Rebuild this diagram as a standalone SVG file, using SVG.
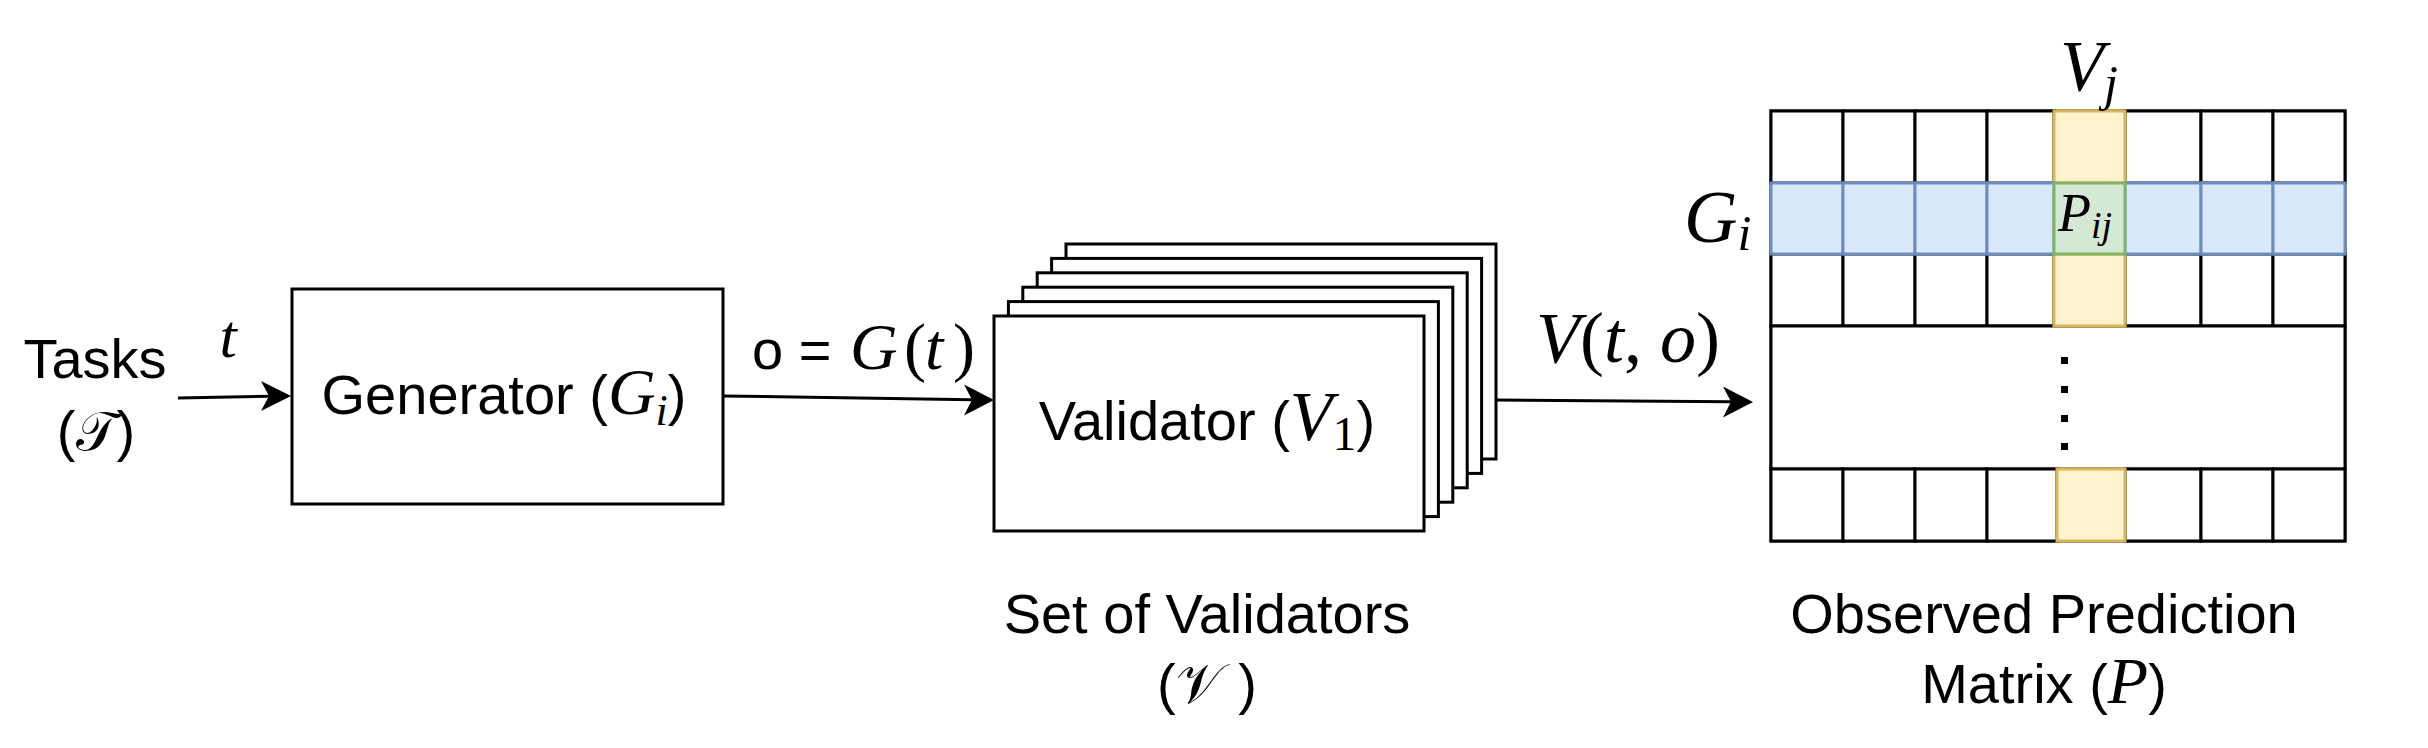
<svg xmlns="http://www.w3.org/2000/svg" width="2428" height="748" viewBox="0 0 2428 748">
<style>
.box{fill:#fff;stroke:#000;stroke-width:3}
.cell{fill:#fff;stroke:#000;stroke-width:3}
.ycell{fill:#fff2cc;stroke:#d6b656;stroke-width:3}
.bcell{fill:#dae8fc;stroke:#6c8ebf;stroke-width:3}
.gcell{fill:#d5e8d4;stroke:#82b366;stroke-width:3}
.edge{fill:none;stroke:#000;stroke-width:3}
.sans{font-family:"Liberation Sans",Arial,sans-serif;font-size:56px;fill:#000}
.m{font-family:"Liberation Serif","Times New Roman",serif;font-style:italic}
.mu{font-family:"Liberation Serif","Times New Roman",serif;font-style:normal}
.cal{font-family:"DejaVu Serif","DejaVu Sans","Noto Sans",serif;font-style:normal}
</style>

<g id="tasks">
<text class="sans" x="95" y="378" text-anchor="middle" font-size="54">Tasks</text>
<text class="sans" x="96" y="450" text-anchor="middle" font-size="54">(<tspan class="cal" font-size="54">𝒯</tspan>)</text>
</g>

<g id="generator">
<rect class="box" x="292" y="289" width="431" height="215"/>
<text class="sans" x="504" y="414" text-anchor="middle">Generator (<tspan class="m" font-size="66">G</tspan><tspan class="m" font-size="44" dy="11">i</tspan><tspan dy="-11">)</tspan></text>
</g>

<g id="validators">
<rect class="box" x="1066" y="244" width="430" height="215"/>
<rect class="box" x="1051.6" y="258.4" width="430" height="215"/>
<rect class="box" x="1037.2" y="272.8" width="430" height="215"/>
<rect class="box" x="1022.8" y="287.2" width="430" height="215"/>
<rect class="box" x="1008.4" y="301.6" width="430" height="215"/>
<rect class="box" x="994" y="316" width="430" height="215"/>
<text class="sans" x="1207" y="440" text-anchor="middle">Validator (<tspan class="m" font-size="70">V</tspan><tspan class="mu" font-size="48" dy="10">1</tspan><tspan dy="-10">)</tspan></text>
</g>

<g id="set-label">
<text class="sans" x="1207" y="633" text-anchor="middle">Set of Validators</text>
<text class="sans" x="1207" y="703" text-anchor="middle">(<tspan class="cal">𝒱</tspan> )</text>
</g>

<g id="matrix">
<rect class="cell" x="1771" y="111" width="574" height="430"/>
<g id="row0">
<rect class="cell" x="1771" y="111" width="72" height="72"/>
<rect class="cell" x="1843" y="111" width="72" height="72"/>
<rect class="cell" x="1915" y="111" width="72" height="72"/>
<rect class="cell" x="1987" y="111" width="67" height="72"/>
<rect class="cell" x="2125" y="111" width="76" height="72"/>
<rect class="cell" x="2201" y="111" width="72" height="72"/>
<rect class="cell" x="2273" y="111" width="72" height="72"/>
</g>
<g id="row2">
<rect class="cell" x="1771" y="254" width="72" height="72"/>
<rect class="cell" x="1843" y="254" width="72" height="72"/>
<rect class="cell" x="1915" y="254" width="72" height="72"/>
<rect class="cell" x="1987" y="254" width="67" height="72"/>
<rect class="cell" x="2125" y="254" width="76" height="72"/>
<rect class="cell" x="2201" y="254" width="72" height="72"/>
<rect class="cell" x="2273" y="254" width="72" height="72"/>
</g>
<rect class="cell" x="1771" y="326" width="574" height="143"/>
<g id="row4">
<rect class="cell" x="1771" y="469" width="72" height="72"/>
<rect class="cell" x="1843" y="469" width="72" height="72"/>
<rect class="cell" x="1915" y="469" width="72" height="72"/>
<rect class="cell" x="1987" y="469" width="70" height="72"/>
<rect class="cell" x="2125" y="469" width="76" height="72"/>
<rect class="cell" x="2201" y="469" width="72" height="72"/>
<rect class="cell" x="2273" y="469" width="72" height="72"/>
</g>
<g id="column-j">
<rect class="ycell" x="2054" y="111" width="71" height="72"/>
<rect class="ycell" x="2054" y="254" width="71" height="72"/>
<rect class="ycell" x="2057" y="469" width="68" height="72"/>
</g>
<g id="row-i">
<rect class="bcell" x="1771" y="183" width="72" height="71"/>
<rect class="bcell" x="1843" y="183" width="72" height="71"/>
<rect class="bcell" x="1915" y="183" width="72" height="71"/>
<rect class="bcell" x="1987" y="183" width="67" height="71"/>
<rect class="bcell" x="2125" y="183" width="76" height="71"/>
<rect class="bcell" x="2201" y="183" width="72" height="71"/>
<rect class="bcell" x="2273" y="183" width="72" height="71"/>
</g>
<g id="cell-ij">
<rect class="gcell" x="2054" y="183" width="71" height="71"/>
<text class="sans" x="2058" y="231"><tspan class="m" font-size="54">P</tspan><tspan class="m" font-size="38" dy="7">ij</tspan></text>
</g>
<g id="dots" fill="#000">
<rect x="2061" y="357" width="7" height="7"/>
<rect x="2061" y="386" width="7" height="7"/>
<rect x="2061" y="415" width="7" height="7"/>
<rect x="2061" y="443" width="7" height="7"/>
</g>
<text class="sans" x="2060" y="90"><tspan class="m" font-size="72">V</tspan><tspan class="m" font-size="50" dy="10">j</tspan></text>
<text class="sans" x="1684" y="242"><tspan class="m" font-size="74">G</tspan><tspan class="m" font-size="50" dy="8">i</tspan></text>
</g>

<g id="matrix-label">
<text class="sans" x="2044" y="633" text-anchor="middle">Observed Prediction</text>
<text class="sans" x="2044" y="703" text-anchor="middle">Matrix (<tspan class="m" font-size="66">P</tspan>)</text>
</g>

<g id="connectors">
<path class="edge" d="M178,398 L270,396.2" />
<path d="M291,396 L261,381 L269,396 L261,411 Z" fill="#000"/>
<path class="edge" d="M723,396 L972,399.7" />
<path d="M994,400 L964,384.5 L972,399.7 L964,415.5 Z" fill="#000"/>
<path class="edge" d="M1497,400 L1731,401.8" />
<path d="M1753,402 L1723,386.5 L1731,401.8 L1723,417.5 Z" fill="#000"/>
<text class="sans" x="228" y="357" text-anchor="middle"><tspan class="m" font-size="62">t</tspan></text>
<text class="sans" x="752" y="369">o = <tspan class="m" font-size="66" x="850">G</tspan><tspan class="mu" font-size="66" x="904">(</tspan><tspan class="m" font-size="66" x="925">t</tspan><tspan class="mu" font-size="66" x="953">)</tspan></text>
<text class="sans" x="1628" y="362" text-anchor="middle"><tspan class="m" font-size="72">V</tspan><tspan class="mu" font-size="72">(</tspan><tspan class="m" font-size="72">t</tspan><tspan class="mu" font-size="72">, </tspan><tspan class="m" font-size="72">o</tspan><tspan class="mu" font-size="72">)</tspan></text>
</g>
</svg>
